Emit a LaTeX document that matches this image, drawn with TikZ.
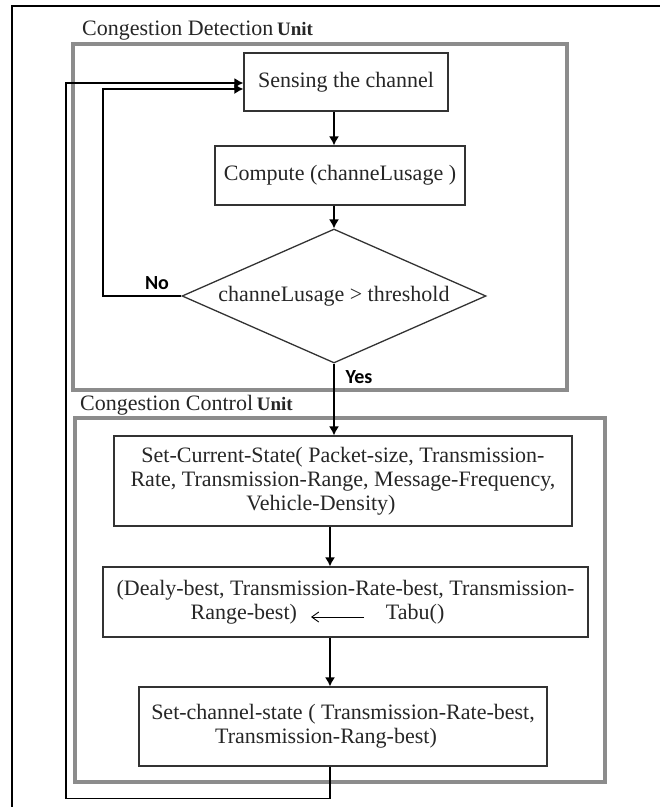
\documentclass[tikz,border=0pt]{standalone}
\usepackage{amsmath}
\usepackage{fontspec}
\setmainfont{Liberation Serif}
\newfontfamily\answerfont{Carlito}
\usepackage{tikz}
\usetikzlibrary{arrows.meta,positioning,shapes.geometric}
\newcommand{\unitword}{{\fontsize{19}{20}\selectfont\bfseries Unit}}

\begin{document}
\begin{tikzpicture}[
    x=1pt, y=-1pt,
    font=\fontsize{22}{24}\selectfont,
    box/.style={rectangle, draw=black!80, line width=1.3pt, align=center, inner sep=0pt, text=black!85},
    decision/.style={diamond, aspect=2.27, draw=black!80, line width=1.3pt, align=center, inner sep=0pt, text=black!85, minimum width=304pt, minimum height=134pt},
    unitframe/.style={draw=black!45, line width=3.5pt},
    unitlabel/.style={anchor=west, inner sep=0pt, text=black!85},
    answer/.style={font=\answerfont\fontsize{20}{22}\selectfont\bfseries, inner sep=0pt},
    arrow/.style={-{Latex[length=9pt,width=10pt]}, line width=1.3pt}
]
\useasboundingbox (0,0) rectangle (664,807);
\draw[line width=1.4pt] (12,807) -- (12,6) -- (660,6);

\draw[unitframe] (73,44) rectangle (567,390);
\draw[unitframe] (75,418) rectangle (605,782);
\node[unitlabel] (detlabel) at (82,31) {Congestion Detection\,\unitword};
\node[unitlabel] (ctllabel) at (80,405) {Congestion Control\,\unitword};

\node[box, minimum width=204pt, minimum height=58pt] (sense) at (346,82) {Sensing the channel};
\node[box, minimum width=250pt, minimum height=59pt] (compute) at (340,175.5) {Compute (channeLusage )};
\node[decision] (decide) at (334,296) {channeLusage > threshold};
\node[box, minimum width=458pt, minimum height=90pt] (setcur) at (343,481) {Set-Current-State( Packet-size, Transmission-\\Rate, Transmission-Range, Message-Frequency,\\Vehicle-Density)\hspace*{44pt}};
\node[box, minimum width=485pt, minimum height=70pt] (best) at (345.5,602) {(Dealy-best, Transmission-Rate-best, Transmission-\\Range-best)\hspace{89pt}Tabu()\hspace*{56pt}};
\node[box, minimum width=408pt, minimum height=79pt] (setch) at (343,726.5) {Set-channel-state ( Transmission-Rate-best,\\Transmission-Rang-best)\hspace*{34pt}};

\node[answer] (no) at (157,283) {No};
\node[answer] (yes) at (359,377) {Yes};

\coordinate (spine) at (330,0);
\coordinate (noleft) at (103,0);
\coordinate (backleft) at (66,0);
\coordinate (tabufrom) at (364,617);
\coordinate (tabuto) at (311,617);

\draw[arrow] (sense.south -| decide) -- (compute.north -| decide);
\draw[arrow] (compute.south -| decide) -- (decide.north);
\draw[arrow] (decide.south) -- (setcur.north -| decide);
\draw[arrow] (setcur.south -| spine) -- (best.north -| spine);
\draw[arrow] (best.south -| spine) -- (setch.north -| spine);
\draw[arrow] (decide.west) -| ([yshift=-7pt]sense.west -| noleft) -- ([yshift=-7pt]sense.west);
\draw[arrow] (setch.south -| spine) -- ++(0,32) -| ([yshift=-1pt]sense.west -| backleft) -- ([yshift=-1pt]sense.west);
\draw[-{Straight Barb[length=7pt,width=10pt]}, line width=0.9pt] (tabufrom) -- (tabuto);
\end{tikzpicture}
\end{document}
